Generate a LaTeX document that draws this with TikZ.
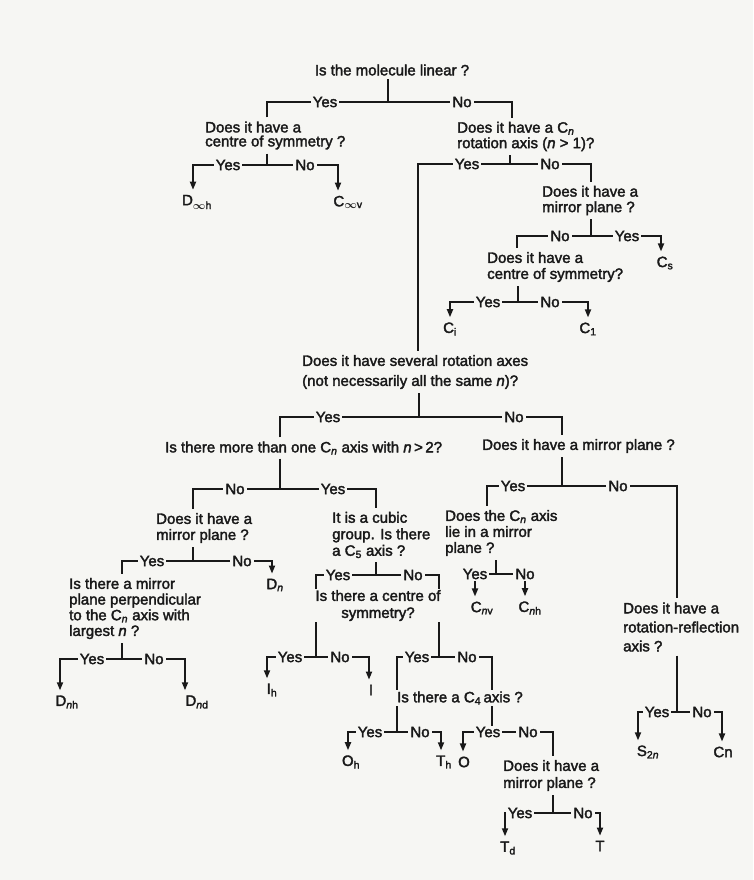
\documentclass[tikz,border=0pt]{standalone}
\usepackage{fontspec}
\setmainfont{Liberation Sans}[FakeBold=2.2]
\usetikzlibrary{arrows.meta}
\definecolor{paper}{RGB}{246,246,243}
\definecolor{ink}{RGB}{25,25,25}

\begin{document}
\begin{tikzpicture}[x=1pt,y=-1pt,line join=miter,
    >={Triangle[length=8pt,width=6pt]},
    every node/.style={text=ink,font=\fontsize{15}{16}\selectfont},
    wire/.style={draw=ink,line width=1.7pt},
    ask/.style={align=left,anchor=west,inner xsep=0pt,inner ysep=4pt},
    lbl/.style={fill=paper,inner xsep=2pt,inner ysep=1pt},
    grp/.style={inner xsep=1pt,inner ysep=5pt}]
\path[use as bounding box,fill=paper] (0,0) rectangle (753,880);

% questions
\node (lin) at (392,70) {Is the molecule linear ?};
\node[ask,font=\fontsize{15}{14}\selectfont] (cen1) at (205,135.5) {Does it have a\\centre of symmetry ?};
\node[ask,font=\fontsize{15}{15.5}\selectfont] (cax) at (457,136.5) {Does it have a C\textsubscript{\textit{n}}\\rotation axis (\textit{n} > 1)?};
\node[ask,font=\fontsize{15}{15.5}\selectfont] (mir1) at (542,200.5) {Does it have a\\mirror plane ?};
\node[ask] (cen2) at (487,267) {Does it have a\\centre of symmetry?};
\node[ask,font=\fontsize{15}{20}\selectfont] (sev) at (302,372) {Does it have several rotation axes\\(not necessarily all the same \textit{n})?};
\node[ask] (many) at (165,448) {Is there more than one C\textsubscript{\textit{n}} axis with \textit{n}\,>\,2?};
\node[ask] (mir2) at (482,446) {Does it have a mirror plane ?};
\node[ask] (mir3) at (156,528) {Does it have a\\mirror plane ?};
\node[ask,font=\fontsize{15}{16.5}\selectfont] (cub) at (332,535) {It is a cubic\\group. Is there\\a C\textsubscript{5} axis ?};
\node[ask] (lie) at (445,533) {Does the C\textsubscript{\textit{n}} axis\\lie in a mirror\\plane ?};
\node[ask,font=\fontsize{15}{15.7}\selectfont] (perp) at (69,608.5) {Is there a mirror\\plane perpendicular\\to the C\textsubscript{\textit{n}} axis with\\largest \textit{n} ?};
\node[ask,font=\fontsize{15}{17}\selectfont] (mir4) at (503,775.5) {Does it have a\\mirror plane ?};
\node[ask,font=\fontsize{15}{19}\selectfont] (rotref) at (623,627) {Does it have a\\rotation-reflection\\axis ?};

% point groups
\node[grp] (dinfh) at (197,202) {D\textsubscript{{\boldmath$\infty$}h}};
\node[grp] (cinfv) at (348,202) {C\textsubscript{{\boldmath$\infty$}v}};
\node[grp] (cs) at (665,263) {C\textsubscript{s}};
\node[grp] (ci) at (450,329) {C\textsubscript{i}};
\node[grp] (cone) at (588,329) {C\textsubscript{1}};
\node[grp] (dn) at (275,585) {D\textsubscript{\textit{n}}};
\node[grp] (dnh) at (67,702) {D\textsubscript{\textit{n}h}};
\node[grp] (dnd) at (197,702) {D\textsubscript{\textit{n}d}};
\node[grp] (ih) at (272,690) {I\textsubscript{h}};
\node[grp] (ii) at (371,690) {I};
\node[grp] (oh) at (351,762) {O\textsubscript{h}};
\node[grp] (th) at (444,762) {T\textsubscript{h}};
\node[grp] (oo) at (464,762) {O};
\node[grp] (td) at (508,848) {T\textsubscript{d}};
\node[grp] (tt) at (600,846) {T};
\node[grp] (cnv) at (482,608) {C\textsubscript{\textit{n}v}};
\node[grp] (cnh) at (530,608) {C\textsubscript{\textit{n}h}};
\node[grp] (stwon) at (648,752) {S\textsubscript{2\textit{n}}};
\node[grp] (cn) at (723,752) {Cn};

% junctions
\coordinate (j1) at (388,102); \coordinate (j1l) at (267,102); \coordinate (j1r) at (512,102);
\coordinate (j2) at (267,165); \coordinate (j2l) at (193,165); \coordinate (j2r) at (338,165);
\coordinate (j3) at (510,164); \coordinate (j3l) at (418,164); \coordinate (j3r) at (591,164);
\coordinate (j4) at (591,236); \coordinate (j4l) at (517,236); \coordinate (j4r) at (661,236);
\coordinate (j5) at (518,302); \coordinate (j5l) at (450,302); \coordinate (j5r) at (588,302);
\coordinate (j6) at (419,417); \coordinate (j6l) at (280,417); \coordinate (j6r) at (562,417);
\coordinate (j7) at (280,489); \coordinate (j7l) at (193,489); \coordinate (j7r) at (376,489);
\coordinate (j9) at (193,561); \coordinate (j9l) at (122,561); \coordinate (j9r) at (272,561);
\coordinate (j12) at (122,659); \coordinate (j12l) at (60,659); \coordinate (j12r) at (185,659);
\coordinate (j10) at (376,575); \coordinate (j10l) at (316,575); \coordinate (j10r) at (439,575);
\coordinate (j13a) at (316,657); \coordinate (j13al) at (267,657); \coordinate (j13ar) at (369,657);
\coordinate (j13b) at (439,657); \coordinate (j13bl) at (397,657); \coordinate (j13br) at (492,657);
\coordinate (j14a) at (397,732); \coordinate (j14al) at (348,732); \coordinate (j14ar) at (441,732);
\coordinate (j14b) at (492,732); \coordinate (j14bl) at (463,732); \coordinate (j14br) at (553,732);
\coordinate (j15) at (553,813); \coordinate (j15l) at (505,813); \coordinate (j15r) at (600,813);
\coordinate (j8) at (562,486); \coordinate (j8l) at (487,486); \coordinate (j8r) at (677,486);
\coordinate (j11) at (496,574);
\coordinate (j16) at (677,712); \coordinate (j16l) at (638,712); \coordinate (j16r) at (722,712);

% wires
\draw[wire] (lin.south -| j1) -- (j1);
\draw[wire] (cen1.north -| j1l) -- (j1l) -- (j1r) -- (cax.north -| j1r);
\draw[wire] (cen1.south -| j2) -- (j2);
\draw[wire,<->] (dinfh.north -| j2l) -- (j2l) -- (j2r) -- (cinfv.north -| j2r);
\draw[wire] (cax.south -| j3) -- (j3);
\draw[wire] (sev.north -| j3l) -- (j3l) -- (j3r) -- (mir1.north -| j3r);
\draw[wire] (mir1.south -| j4) -- (j4);
\draw[wire,->] (cen2.north -| j4l) -- (j4l) -- (j4r) -- (cs.north -| j4r);
\draw[wire] (cen2.south -| j5) -- (j5);
\draw[wire,<->] (ci.north -| j5l) -- (j5l) -- (j5r) -- (cone.north -| j5r);
\draw[wire] (sev.south -| j6) -- (j6);
\draw[wire] (many.north -| j6l) -- (j6l) -- (j6r) -- (mir2.north -| j6r);
\draw[wire] (many.south -| j7) -- (j7);
\draw[wire] (mir3.north -| j7l) -- (j7l) -- (j7r) -- (cub.north -| j7r);
\draw[wire] (mir3.south -| j9) -- (j9);
\draw[wire,->] (perp.north -| j9l) -- (j9l) -- (j9r) -- (dn.north -| j9r);
\draw[wire] (perp.south -| j12) -- (j12);
\draw[wire,<->] (dnh.north -| j12l) -- (j12l) -- (j12r) -- (dnd.north -| j12r);
\draw[wire] (cub.south -| j10) -- (j10);
\draw[wire] (j13a) -- (j10l) -- (j10r) -- (j13b);
\draw[wire,<->] (ih.north -| j13al) -- (j13al) -- (j13ar) -- (ii.north -| j13ar);
\draw[wire] (j14a) -- (j13bl) -- (j13br) -- (j14b);
\draw[wire,<->] (oh.north -| j14al) -- (j14al) -- (j14ar) -- (th.north -| j14ar);
\draw[wire,<-] (oo.north -| j14bl) -- (j14bl) -- (j14br) -- (mir4.north -| j14br);
\draw[wire] (mir4.south -| j15) -- (j15);
\draw[wire,<->] (td.north -| j15l) -- (j15l) -- (j15r) -- (tt.north -| j15r);
\draw[wire] (mir2.south -| j8) -- (j8);
\draw[wire] (lie.north -| j8l) -- (j8l) -- (j8r) -- (rotref.north -| j8r);
\draw[wire] (lie.south -| j11) -- (j11);
\draw[wire] (rotref.south -| j16) -- (j16);
\draw[wire,<->] (stwon.north -| j16l) -- (j16l) -- (j16r) -- (cn.north -| j16r);

% questions laid over their wires
\node[fill=paper,inner xsep=3pt,inner ysep=1pt,align=center,font=\fontsize{15}{17}\selectfont] (cen3) at (378,605.5) {Is there a centre of\\symmetry?};
\node[ask,fill=paper,inner xsep=3pt,inner ysep=1pt] (cfour) at (394,698) {Is there a C\textsubscript{4}\,axis ?};

% answers
\node[lbl] (y1) at (325,102) {Yes}; \node[lbl] (n1) at (462,102) {No};
\node[lbl] (y2) at (228,165) {Yes}; \node[lbl] (n2) at (305,165) {No};
\node[lbl] (y3) at (467,164) {Yes}; \node[lbl] (n3) at (550,164) {No};
\node[lbl] (n4) at (560,236) {No}; \node[lbl] (y4) at (627,236) {Yes};
\node[lbl] (y5) at (488,302) {Yes}; \node[lbl] (n5) at (550,302) {No};
\node[lbl] (y6) at (328,417) {Yes}; \node[lbl] (n6) at (514,417) {No};
\node[lbl] (n7) at (235,489) {No}; \node[lbl] (y7) at (333,489) {Yes};
\node[lbl] (y9) at (152,561) {Yes}; \node[lbl] (n9) at (242,561) {No};
\node[lbl] (y12) at (92,659) {Yes}; \node[lbl] (n12) at (154,659) {No};
\node[lbl] (y10) at (338,575) {Yes}; \node[lbl] (n10) at (413,575) {No};
\node[lbl] (y13a) at (290,657) {Yes}; \node[lbl] (n13a) at (340,657) {No};
\node[lbl] (y13b) at (417,657) {Yes}; \node[lbl] (n13b) at (467,657) {No};
\node[lbl] (y14a) at (370,732) {Yes}; \node[lbl] (n14a) at (420,732) {No};
\node[lbl] (y14b) at (488,732) {Yes}; \node[lbl] (n14b) at (528,732) {No};
\node[lbl] (y15) at (520,813) {Yes}; \node[lbl] (n15) at (583,813) {No};
\node[lbl] (y8) at (513,486) {Yes}; \node[lbl] (n8) at (618,486) {No};
\node[lbl] (y16) at (657,712) {Yes}; \node[lbl] (n16) at (702,712) {No};
\node[inner xsep=2pt,inner ysep=2pt] (y11) at (475,574) {Yes};
\node[inner xsep=2pt,inner ysep=2pt] (n11) at (525,574) {No};
\draw[wire] (y11) -- (n11);
\draw[wire,->] (y11.south) -- (cnv.north -| y11.south);
\draw[wire,->] (n11.south) -- (cnh.north -| n11.south);
\end{tikzpicture}
\end{document}
